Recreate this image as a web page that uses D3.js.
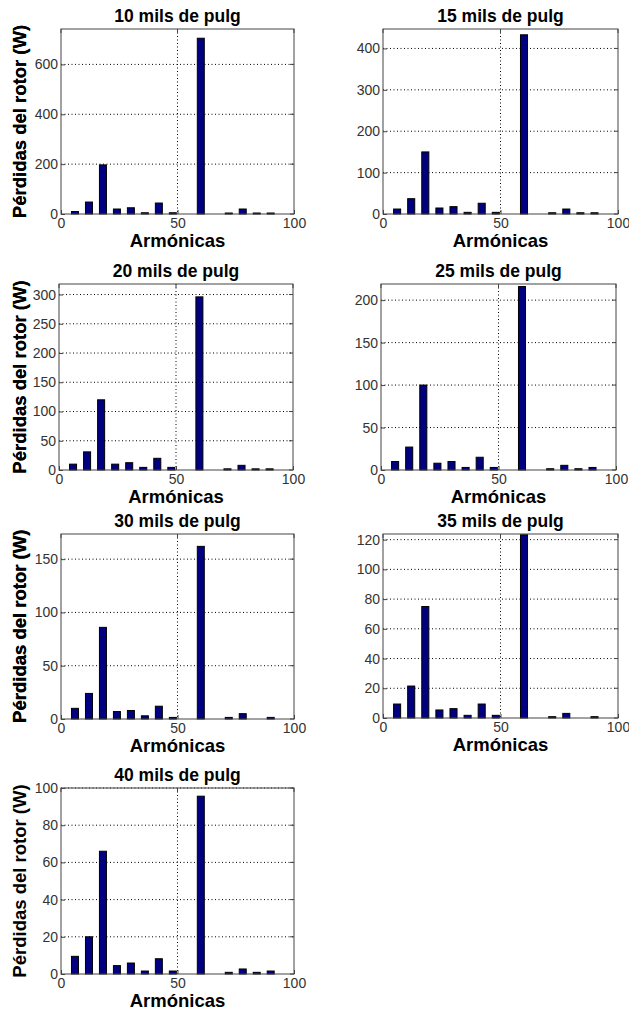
<!DOCTYPE html>
<html><head><meta charset="utf-8">
<script src="https://cdn.jsdelivr.net/npm/d3@7"></script>
<style>body{margin:0;background:#fff}svg{display:block}</style>
</head><body>
<script>
const harmonics = [6,12,18,24,30,36,42,48,54,60,66,72,78,84,90];
const titles = ["10 mils de pulg","15 mils de pulg","20 mils de pulg","25 mils de pulg","30 mils de pulg","35 mils de pulg","40 mils de pulg"];
const loss10 = [10,48,197,20,25,5,44,5,0,705,0,4,20,4,4];
const loss15 = [12,37,150,14.5,17.8,4,26,4,0,433,0,3,12,3,3];
const loss20 = [10,31,120,10,12.5,4.5,20,4.5,0,296,0,2,8,2,2];
const loss25 = [10,27,100,8,10,3,15,3,0,216,0,1.5,5.5,1.5,3];
const loss30 = [10,24,86,7,8,3,12,1.5,0,162,0,1.5,5,0,1.5];
const loss35 = [9.4,21.5,75,5.4,6.3,1.8,9.4,1.8,0,123.3,0,0.9,3.1,0,0.9];
const loss40 = [9.5,20,66,4.5,5.9,1.6,8.2,1.6,0,95.6,0,0.9,2.7,0.9,1.6];
const series = [loss10,loss15,loss20,loss25,loss30,loss35,loss40];
const yMax = [742,447,318,219,173.6,123.8,100];
const yTicks = [[0,200,400,600],[0,100,200,300,400],[0,50,100,150,200,250,300],[0,50,100,150,200],[0,50,100,150],[0,20,40,60,80,100,120],[0,20,40,60,80,100]];
const xTicks = [0,50,100];
const xLabel = "Armónicas";
const yLabel = "Pérdidas del rotor (W)";

// layout (pixel positions of each axes box)
const layout = [
  {x:61,y:29,w:233,h:185},
  {x:383,y:29,w:235,h:185},
  {x:59,y:284,w:234,h:186},
  {x:381,y:284,w:235,h:186},
  {x:61,y:534,w:233,h:185},
  {x:383,y:534,w:235,h:184},
  {x:61,y:788,w:233,h:186}
];

const svg = d3.select("body").append("svg").attr("width",629).attr("height",1016);
const font = "'Liberation Sans', Arial, sans-serif";

series.forEach((vals,i)=>{
  const L = layout[i];
  const g = svg.append("g").attr("transform",`translate(${L.x},${L.y})`);
  const x = d3.scaleLinear().domain([0,100]).range([0,L.w]);
  const y = d3.scaleLinear().domain([0,yMax[i]]).range([L.h,0]);

  // grid
  g.append("g").selectAll("line").data(yTicks[i].filter(t=>t>0)).join("line")
    .attr("x1",0).attr("x2",L.w).attr("y1",d=>y(d)).attr("y2",d=>y(d))
    .attr("stroke","#000").attr("stroke-width",1).attr("stroke-dasharray","1,2.5");
  g.append("g").selectAll("line").data(xTicks.filter(t=>t>0&&t<100)).join("line")
    .attr("y1",0).attr("y2",L.h).attr("x1",d=>x(d)).attr("x2",d=>x(d))
    .attr("stroke","#000").attr("stroke-width",1).attr("stroke-dasharray","1,2.5");

  // bars
  const bw = x(3)-x(0);
  g.append("g").selectAll("rect").data(harmonics.map((h,j)=>({h,v:vals[j]})).filter(d=>d.v>0)).join("rect")
    .attr("x",d=>x(d.h)-bw/2).attr("width",bw)
    .attr("y",d=>y(d.v)).attr("height",d=>L.h-y(d.v))
    .attr("fill","#000080").attr("stroke","#000").attr("stroke-width",1);

  // axes
  const ax = g.append("g").attr("transform",`translate(0,${L.h})`)
    .call(d3.axisBottom(x).tickValues(xTicks).tickSize(-4).tickPadding(4));
  const ay = g.append("g").call(d3.axisLeft(y).tickValues(yTicks[i]).tickSize(-4).tickPadding(3));
  [ax,ay].forEach(a=>{
    a.select(".domain").remove();
    a.selectAll("line").attr("stroke","#444");
    a.selectAll("text").attr("fill","#333").style("font-family",font).style("font-size","14px");
  });
  // top/right ticks
  g.append("g").selectAll("line").data(xTicks).join("line")
    .attr("x1",d=>x(d)).attr("x2",d=>x(d)).attr("y1",0).attr("y2",4).attr("stroke","#444");
  g.append("g").selectAll("line").data(yTicks[i]).join("line")
    .attr("x1",L.w).attr("x2",L.w-4).attr("y1",d=>y(d)).attr("y2",d=>y(d)).attr("stroke","#444");
  // box
  g.append("rect").attr("x",0).attr("y",0).attr("width",L.w).attr("height",L.h)
    .attr("fill","none").attr("stroke","#444").attr("stroke-width",1);

  // title
  g.append("text").attr("x",L.w/2).attr("y",-7).attr("text-anchor","middle")
    .style("font-family",font).style("font-weight","bold").style("font-size","17.5px").text(titles[i]);
  // x label
  g.append("text").attr("x",L.w/2).attr("y",L.h+33).attr("text-anchor","middle")
    .style("font-family",font).style("font-weight","bold").style("font-size","18.5px").text(xLabel);
  // y label
  g.append("text").attr("transform",`translate(${20-L.x},${L.h/2}) rotate(-90)`).attr("text-anchor","middle")
    .attr("dy","0.35em")
    .style("font-family",font).style("font-weight","bold").style("font-size","18.5px").text(yLabel);
});
</script>
</body></html>
